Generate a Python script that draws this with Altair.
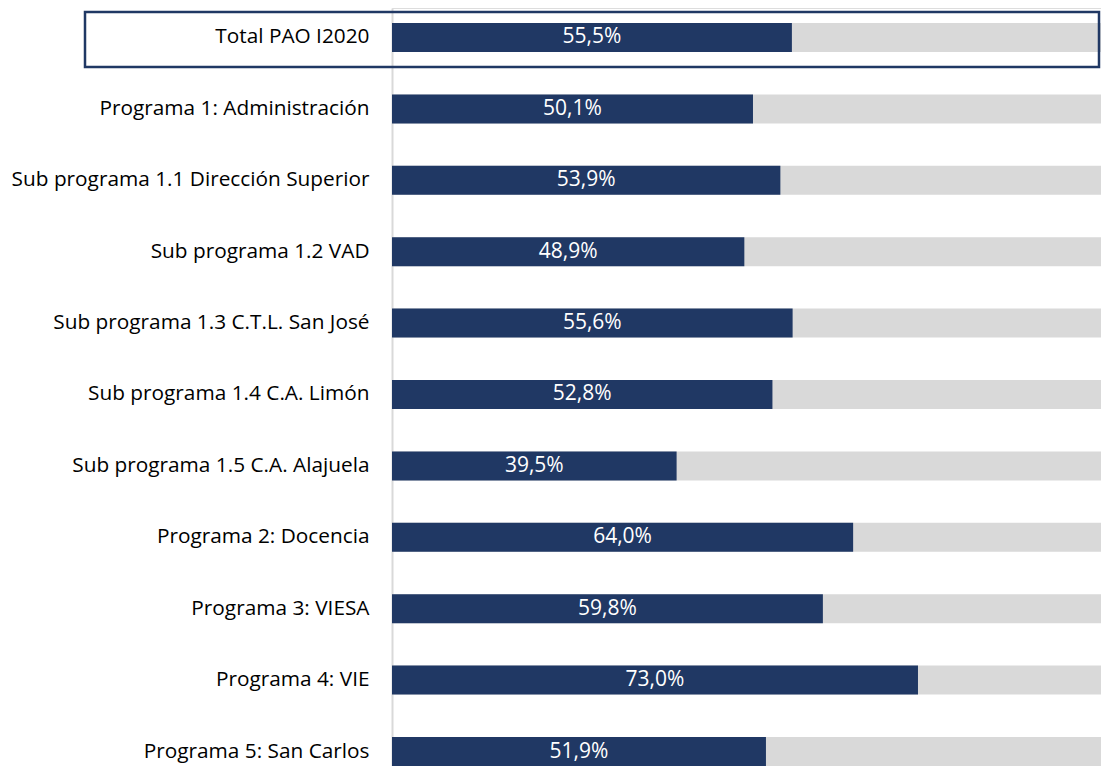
import altair as alt
import pandas as pd

categories = [
    "Total PAO I2020",
    "Programa 1: Administración",
    "Sub programa 1.1 Dirección Superior",
    "Sub programa 1.2 VAD",
    "Sub programa 1.3 C.T.L. San José",
    "Sub programa 1.4 C.A. Limón",
    "Sub programa 1.5 C.A. Alajuela",
    "Programa 2: Docencia",
    "Programa 3: VIESA",
    "Programa 4: VIE",
    "Programa 5: San Carlos",
]
values = [55.5, 50.1, 53.9, 48.9, 55.6, 52.8, 39.5, 64.0, 59.8, 73.0, 51.9]
full = [100] * len(categories)

df = pd.DataFrame({
    "cat": categories,
    "val": values,
    "full": full,
    "half": [v / 2 for v in values],
    "lbl": [f"{v:.1f}".replace(".", ",") + "%" for v in values],
})

NAVY = "#203864"
GREY = "#D9D9D9"
FONT = "Open Sans"
W = 709
H = 758

xs = alt.Scale(domain=[0, 98.4], nice=False, zero=True)
ys = alt.Scale(domain=categories, paddingInner=0.594, paddingOuter=0.105, align=1)

y_enc = alt.Y(
    "cat:N", scale=ys, sort=categories, title=None,
    axis=alt.Axis(
        labelFont=FONT, labelFontSize=20.8, labelColor="#000000",
        labelPadding=23, ticks=False, grid=False,
        domain=True, domainColor=GREY, domainWidth=2,
        minExtent=384, maxExtent=384, labelLimit=400,
    ),
)

bg = alt.Chart(df).mark_bar(color=GREY, clip=True).encode(
    y=y_enc,
    x=alt.X("full:Q", scale=xs, axis=None),
)

fg = alt.Chart(df).mark_bar(color=NAVY).encode(
    y=alt.Y("cat:N", scale=ys, sort=categories),
    x=alt.X("val:Q", scale=xs, axis=None),
)

txt = alt.Chart(df).mark_text(
    color="white", font=FONT, fontSize=21, align="center", baseline="middle"
).encode(
    y=alt.Y("cat:N", scale=ys, sort=categories),
    x=alt.X("half:Q", scale=xs, axis=None),
    text="lbl:N",
)

box_df = pd.DataFrame({"cat": [categories[0]]})
box = alt.Chart(box_df).mark_rect(
    fill=None, stroke=NAVY, strokeWidth=2.5, clip=False
).encode(
    x=alt.value(-307),
    x2=alt.value(W - 2),
    y=alt.value(4),
    y2=alt.value(59),
)

chart = alt.layer(bg, fg, txt, box).properties(
    width=W, height=H, padding=0
).configure_view(stroke=None).configure(background="white")

chart.save("out.html", embed_options={"renderer": "svg", "actions": False})
